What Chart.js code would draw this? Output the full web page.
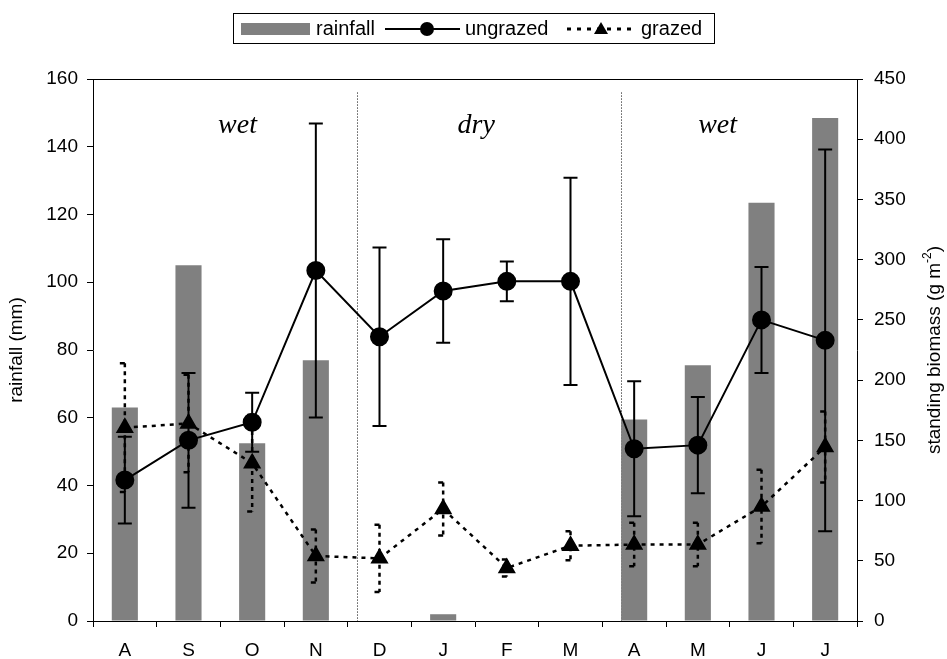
<!DOCTYPE html>
<html>
<head>
<meta charset="utf-8">
<script src="https://cdn.jsdelivr.net/npm/chart.js@4"></script>
<style>
    html, body { margin: 0; padding: 0; background: #fff; }
    #wrap { width: 947px; height: 659px; }
</style>
</head>
<body>
<div id="wrap"><canvas id="biomassChart"></canvas></div>
<script>
// months, Aug .. Jul of the following year
const months = ['A', 'S', 'O', 'N', 'D', 'J', 'F', 'M', 'A', 'M', 'J', 'J'];

// monthly rainfall (mm), left axis
const rainfall = [63, 105, 52.5, 77, 0, 2, 0, 0, 59.5, 75.5, 123.5, 148.5];

// standing biomass (g m-2), right axis, mean and error
const ungrazed    = [117, 150, 165, 291, 236, 274, 282, 282, 143, 146, 250, 233];
const ungrazedErr = [36, 56, 24.5, 122, 74, 43, 16.5, 86, 56, 40, 44, 158.5];
const grazed      = [160.5, 164, 131, 54, 52, 93, 44, 62.5, 63.5, 63.5, 95, 144.5];
const grazedErr   = [53.5, 40.5, 40, 22, 28, 22, 7, 12, 18, 18, 30.5, 29.5];

// season annotation (category index, left axis value)
const seasons = ['wet', 'dry', 'wet'];
const seasonAt = [1.77, 5.52, 9.31];
const seasonLevel = 144;
const seasonBreaks = [3.65, 7.8];
const breakTop = 156;

const FONT = "'Liberation Sans', Arial, sans-serif";

const errorBarPlugin = {
    id: 'errorBars',
    afterDatasetsDraw(chart) {
        const ctx = chart.ctx;
        const xs = chart.scales.x;
        const ys = chart.scales.y1;
        ctx.save();
        ctx.strokeStyle = '#000';
        // ungrazed: solid with full caps
        ctx.lineWidth = 2;
        ctx.setLineDash([]);
        ungrazed.forEach((v, i) => {
            const x = xs.getPixelForValue(i);
            const top = ys.getPixelForValue(v + ungrazedErr[i]);
            const bot = ys.getPixelForValue(v - ungrazedErr[i]);
            ctx.beginPath();
            ctx.moveTo(x, top); ctx.lineTo(x, bot);
            ctx.moveTo(x - 7, top); ctx.lineTo(x + 7, top);
            ctx.moveTo(x - 7, bot); ctx.lineTo(x + 7, bot);
            ctx.stroke();
        });
        // grazed: dashed with short caps
        ctx.lineWidth = 2.5;
        grazed.forEach((v, i) => {
            const x = xs.getPixelForValue(i);
            const top = ys.getPixelForValue(v + grazedErr[i]);
            const bot = ys.getPixelForValue(v - grazedErr[i]);
            ctx.setLineDash([4, 4]);
            ctx.beginPath();
            ctx.moveTo(x, top); ctx.lineTo(x, bot);
            ctx.stroke();
            ctx.setLineDash([]);
            ctx.beginPath();
            ctx.moveTo(x - 5, top); ctx.lineTo(x, top);
            ctx.moveTo(x - 5, bot); ctx.lineTo(x, bot);
            ctx.stroke();
        });
        ctx.restore();
    }
};

const decorPlugin = {
    id: 'decor',
    beforeDatasetsDraw(chart) {
        const ctx = chart.ctx;
        const xs = chart.scales.x;
        const ys = chart.scales.y;
        const area = chart.chartArea;
        ctx.save();
        // season boundaries
        ctx.strokeStyle = '#000';
        ctx.lineWidth = 1;
        ctx.setLineDash([1, 2]);
        seasonBreaks.forEach(b => {
            const x = Math.round(xs.getPixelForValue(b)) + 0.5;
            ctx.beginPath();
            ctx.moveTo(x, ys.getPixelForValue(breakTop));
            ctx.lineTo(x, area.bottom);
            ctx.stroke();
        });
        ctx.setLineDash([]);
        // top border of the plot
        ctx.beginPath();
        ctx.moveTo(area.left, area.top + 0.5);
        ctx.lineTo(area.right + 6, area.top + 0.5);
        ctx.moveTo(area.left - 6, area.top + 0.5);
        ctx.lineTo(area.left, area.top + 0.5);
        ctx.stroke();
        // season labels
        ctx.fillStyle = '#000';
        ctx.font = "italic 28px 'Liberation Serif', 'Times New Roman', serif";
        ctx.textAlign = 'center';
        ctx.textBaseline = 'alphabetic';
        seasons.forEach((s, i) => {
            ctx.fillText(s, xs.getPixelForValue(seasonAt[i]), ys.getPixelForValue(seasonLevel));
        });
        ctx.restore();
    },
    afterDraw(chart) {
        const ctx = chart.ctx;
        const area = chart.chartArea;
        const midY = (area.top + area.bottom) / 2;
        ctx.save();
        ctx.fillStyle = '#000';
        // left axis title
        ctx.font = '19px ' + FONT;
        ctx.textAlign = 'center';
        ctx.textBaseline = 'middle';
        ctx.translate(17, midY);
        ctx.rotate(-Math.PI / 2);
        ctx.fillText('rainfall (mm)', 0, 0);
        ctx.restore();

        // right axis title with superscript
        ctx.save();
        ctx.fillStyle = '#000';
        ctx.textBaseline = 'middle';
        ctx.textAlign = 'left';
        const main = 'standing biomass (g m';
        const sup = '-2';
        const tail = ')';
        ctx.font = '19px ' + FONT;
        const wMain = ctx.measureText(main).width;
        const wTail = ctx.measureText(tail).width;
        ctx.font = '12px ' + FONT;
        const wSup = ctx.measureText(sup).width;
        const total = wMain + wSup + wTail;
        ctx.translate(935, midY);
        ctx.rotate(-Math.PI / 2);
        let x = -total / 2;
        ctx.font = '19px ' + FONT;
        ctx.fillText(main, x, 0);
        x += wMain;
        ctx.font = '12px ' + FONT;
        ctx.fillText(sup, x, -7);
        x += wSup;
        ctx.font = '19px ' + FONT;
        ctx.fillText(tail, x, 0);
        ctx.restore();

        // legend
        ctx.save();
        ctx.strokeStyle = '#000';
        ctx.lineWidth = 1;
        ctx.strokeRect(233.5, 13.5, 481, 30);
        const cy = 29;
        ctx.fillStyle = '#808080';
        ctx.fillRect(241, 23, 69, 12);
        ctx.fillStyle = '#000';
        ctx.font = '20px ' + FONT;
        ctx.textBaseline = 'middle';
        ctx.textAlign = 'left';
        ctx.fillText('rainfall', 316, cy);
        // ungrazed
        ctx.lineWidth = 2;
        ctx.beginPath();
        ctx.moveTo(385, cy); ctx.lineTo(460, cy);
        ctx.stroke();
        ctx.beginPath();
        ctx.arc(427, cy, 7, 0, Math.PI * 2);
        ctx.fill();
        ctx.fillText('ungrazed', 465, cy);
        // grazed
        ctx.lineWidth = 3;
        ctx.setLineDash([4, 6]);
        ctx.beginPath();
        ctx.moveTo(567, cy); ctx.lineTo(636, cy);
        ctx.stroke();
        ctx.setLineDash([]);
        ctx.beginPath();
        ctx.moveTo(601, cy - 7);
        ctx.lineTo(608, cy + 5);
        ctx.lineTo(594, cy + 5);
        ctx.closePath();
        ctx.fill();
        ctx.fillText('grazed', 641, cy);
        ctx.restore();
    }
};

const ctx = document.getElementById('biomassChart').getContext('2d');

const biomassChart = new Chart(ctx, {
    type: 'bar',
    data: {
        labels: months,
        datasets: [
            {
                label: 'ungrazed',
                type: 'line',
                data: ungrazed,
                yAxisID: 'y1',
                borderColor: '#000',
                backgroundColor: '#000',
                borderWidth: 2,
                pointRadius: 8.5,
                pointStyle: 'circle',
                tension: 0,
                order: 1
            },
            {
                label: 'grazed',
                type: 'line',
                data: grazed,
                yAxisID: 'y1',
                borderColor: '#000',
                backgroundColor: '#000',
                borderWidth: 2.5,
                borderDash: [4, 5],
                pointRadius: 8,
                pointStyle: 'triangle',
                tension: 0,
                order: 2
            },
            {
                label: 'rainfall',
                data: rainfall,
                yAxisID: 'y',
                backgroundColor: '#808080',
                borderWidth: 0,
                categoryPercentage: 1,
                barPercentage: 0.41,
                order: 3
            }
        ]
    },
    options: {
        responsive: true,
        maintainAspectRatio: false,
        animation: false,
        layout: { padding: { top: 79, left: 0, right: 0, bottom: 0 } },
        plugins: {
            legend: { display: false },
            tooltip: { enabled: false }
        },
        scales: {
            x: {
                type: 'category',
                offset: true,
                grid: { display: true, drawOnChartArea: false, offset: true, tickLength: 6, color: '#000' },
                border: { color: '#000', width: 1 },
                ticks: { color: '#000', font: { family: FONT, size: 19 }, padding: 12, maxRotation: 0, autoSkip: false },
                afterFit: s => { s.height = 38; }
            },
            y: {
                position: 'left',
                min: 0,
                max: 160,
                grid: { display: true, drawOnChartArea: false, tickLength: 6, color: '#000' },
                border: { color: '#000', width: 1 },
                ticks: { stepSize: 20, color: '#000', font: { family: FONT, size: 19 }, padding: 9 },
                afterFit: s => { s.width = 93; }
            },
            y1: {
                position: 'right',
                min: 0,
                max: 450,
                grid: { display: true, drawOnChartArea: false, tickLength: 6, color: '#000' },
                border: { color: '#000', width: 1 },
                ticks: { stepSize: 50, color: '#000', font: { family: FONT, size: 19 }, padding: 11 },
                afterFit: s => { s.width = 90; }
            }
        }
    },
    plugins: [decorPlugin, errorBarPlugin]
});
</script>
</body>
</html>
